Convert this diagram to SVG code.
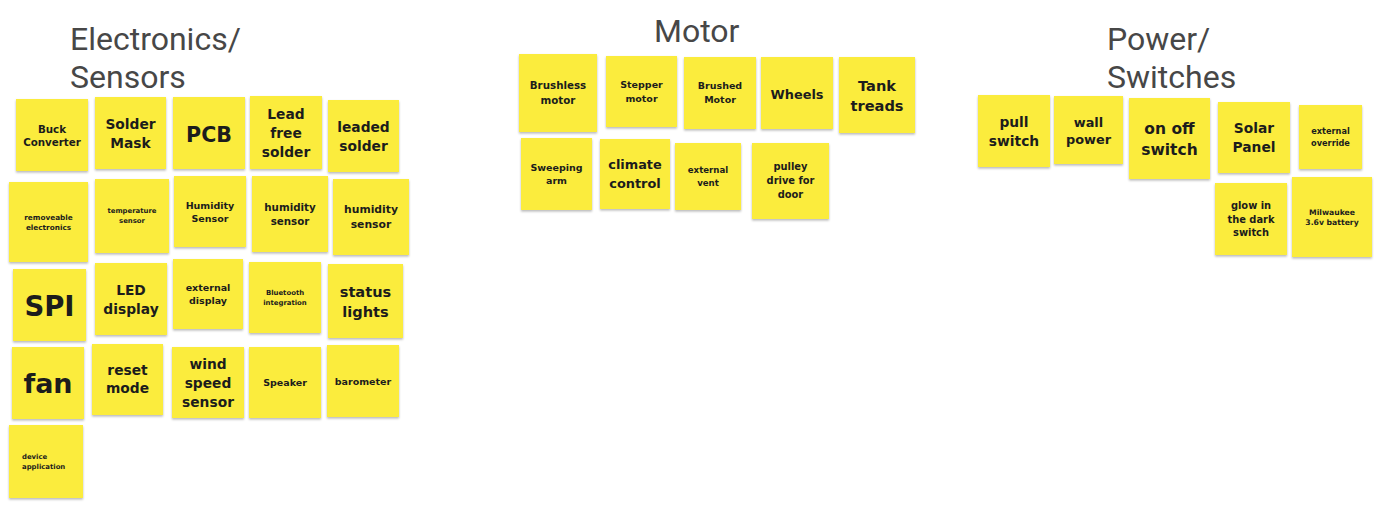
<svg xmlns="http://www.w3.org/2000/svg" width="1381" height="510" viewBox="0 0 1381 510">
<defs>
<filter id="sh" x="-10%" y="-10%" width="120%" height="125%">
<feDropShadow dx="0" dy="1.5" stdDeviation="1" flood-color="#000" flood-opacity="0.28"/>
</filter>
</defs>
<style>
.n{fill:#FBEC3D;filter:url(#sh)}
.t{font-family:"DejaVu Sans","Noto Sans",sans-serif;font-weight:700;fill:#1c1c1c;text-anchor:middle}
.l{text-anchor:start}
.h{font-family:Roboto,"Liberation Sans",sans-serif;font-size:32px;fill:#474747}
</style>
<rect width="1381" height="510" fill="#fff"/>
<g id="titles">
<text class="h" x="70" y="50">Electronics/</text>
<text class="h" x="70" y="88">Sensors</text>
<text class="h" x="654" y="42">Motor</text>
<text class="h" x="1107" y="50">Power/</text>
<text class="h" x="1107" y="88">Switches</text>
</g>
<g id="connectors"/>
<!-- Electronics row 1 -->
<g id="buck"><rect class="n" x="16" y="99" width="72" height="72"/><text class="t" font-size="10.3"><tspan x="52" y="133">Buck</tspan><tspan x="52" y="146">Converter</tspan></text></g>
<g id="soldermask"><rect class="n" x="95" y="97" width="71" height="72"/><text class="t" font-size="13.8"><tspan x="130.5" y="129">Solder</tspan><tspan x="130.5" y="148">Mask</tspan></text></g>
<g id="pcb"><rect class="n" x="173" y="97" width="72" height="72"/><text class="t" font-size="20.6" x="209" y="142">PCB</text></g>
<g id="leadfree"><rect class="n" x="250" y="96" width="72" height="73"/><text class="t" font-size="13.8"><tspan x="286" y="119">Lead</tspan><tspan x="286" y="138">free</tspan><tspan x="286" y="157">solder</tspan></text></g>
<g id="leaded"><rect class="n" x="328" y="100" width="71" height="72"/><text class="t" font-size="13.8"><tspan x="363.5" y="132">leaded</tspan><tspan x="363.5" y="151">solder</tspan></text></g>
<!-- row 2 -->
<g id="removeable"><rect class="n" x="9" y="182" width="79" height="80"/><text class="t" font-size="7.3"><tspan x="48.5" y="220">removeable</tspan><tspan x="48.5" y="230">electronics</tspan></text></g>
<g id="temperature"><rect class="n" x="95" y="179" width="74" height="74"/><text class="t" font-size="6.9"><tspan x="132" y="213">temperature</tspan><tspan x="132" y="223">sensor</tspan></text></g>
<g id="humidity1"><rect class="n" x="174" y="176" width="72" height="71"/><text class="t" font-size="9.5"><tspan x="210" y="209">Humidity</tspan><tspan x="210" y="222">Sensor</tspan></text></g>
<g id="humidity2"><rect class="n" x="252" y="176" width="76" height="76"/><text class="t" font-size="10.3"><tspan x="290" y="211">humidity</tspan><tspan x="290" y="225">sensor</tspan></text></g>
<g id="humidity3"><rect class="n" x="333" y="179" width="76" height="76"/><text class="t" font-size="10.8"><tspan x="371" y="213">humidity</tspan><tspan x="371" y="228">sensor</tspan></text></g>
<!-- row 3 -->
<g id="spi"><rect class="n" x="13" y="269" width="73" height="72"/><text class="t" font-size="27.5" x="49.5" y="316">SPI</text></g>
<g id="led"><rect class="n" x="95" y="263" width="72" height="72"/><text class="t" font-size="13.8"><tspan x="131" y="295">LED</tspan><tspan x="131" y="314">display</tspan></text></g>
<g id="extdisplay"><rect class="n" x="173" y="259" width="70" height="70"/><text class="t" font-size="9.5"><tspan x="208" y="291">external</tspan><tspan x="208" y="304">display</tspan></text></g>
<g id="bluetooth"><rect class="n" x="249" y="262" width="72" height="71"/><text class="t" font-size="6.9"><tspan x="285" y="295">Bluetooth</tspan><tspan x="285" y="305">integration</tspan></text></g>
<g id="status"><rect class="n" x="328" y="264" width="75" height="74"/><text class="t" font-size="14.6"><tspan x="365.5" y="297">status</tspan><tspan x="365.5" y="317">lights</tspan></text></g>
<!-- row 4 -->
<g id="fan"><rect class="n" x="12" y="347" width="72" height="72"/><text class="t" font-size="27" x="48" y="393">fan</text></g>
<g id="reset"><rect class="n" x="92" y="344" width="71" height="71"/><text class="t" font-size="13.8"><tspan x="127.5" y="375">reset</tspan><tspan x="127.5" y="393">mode</tspan></text></g>
<g id="wind"><rect class="n" x="172" y="347" width="72" height="71"/><text class="t" font-size="13.8"><tspan x="208" y="369">wind</tspan><tspan x="208" y="388">speed</tspan><tspan x="208" y="407">sensor</tspan></text></g>
<g id="speaker"><rect class="n" x="249" y="347" width="72" height="71"/><text class="t" font-size="9.5" x="285" y="386">Speaker</text></g>
<g id="barometer"><rect class="n" x="327" y="345" width="72" height="72"/><text class="t" font-size="9.5" x="363" y="385">barometer</text></g>
<!-- row 5 -->
<g id="deviceapp"><rect class="n" x="9" y="425" width="74" height="73"/><text class="t l" font-size="6.9"><tspan x="22" y="459">device</tspan><tspan x="22" y="469">application</tspan></text></g>
<!-- Motor -->
<g id="brushless"><rect class="n" x="519" y="54" width="78" height="78"/><text class="t" font-size="10.3"><tspan x="558" y="89">Brushless</tspan><tspan x="558" y="104">motor</tspan></text></g>
<g id="stepper"><rect class="n" x="606" y="56" width="71" height="71"/><text class="t" font-size="9.5"><tspan x="641.5" y="88">Stepper</tspan><tspan x="641.5" y="102">motor</tspan></text></g>
<g id="brushed"><rect class="n" x="684" y="57" width="72" height="72"/><text class="t" font-size="9.5"><tspan x="720" y="89">Brushed</tspan><tspan x="720" y="103">Motor</tspan></text></g>
<g id="wheels"><rect class="n" x="761" y="57" width="72" height="72"/><text class="t" font-size="12.9" x="797" y="99">Wheels</text></g>
<g id="tank"><rect class="n" x="839" y="57" width="76" height="76"/><text class="t" font-size="14.6"><tspan x="877" y="91">Tank</tspan><tspan x="877" y="111">treads</tspan></text></g>
<g id="sweeping"><rect class="n" x="521" y="138" width="71" height="72"/><text class="t" font-size="9.5"><tspan x="556.5" y="171">Sweeping</tspan><tspan x="556.5" y="184">arm</tspan></text></g>
<g id="climate"><rect class="n" x="600" y="139" width="70" height="70"/><text class="t" font-size="12.9"><tspan x="635" y="169">climate</tspan><tspan x="635" y="188">control</tspan></text></g>
<g id="extvent"><rect class="n" x="675" y="143" width="66" height="67"/><text class="t" font-size="8.6"><tspan x="708" y="173">external</tspan><tspan x="708" y="186">vent</tspan></text></g>
<g id="pulley"><rect class="n" x="752" y="143" width="77" height="76"/><text class="t" font-size="9.9"><tspan x="790.5" y="170">pulley</tspan><tspan x="790.5" y="184">drive for</tspan><tspan x="790.5" y="198">door</tspan></text></g>
<!-- Power -->
<g id="pull"><rect class="n" x="978" y="95" width="72" height="72"/><text class="t" font-size="13.8"><tspan x="1014" y="127">pull</tspan><tspan x="1014" y="146">switch</tspan></text></g>
<g id="wall"><rect class="n" x="1054" y="96" width="69" height="68"/><text class="t" font-size="12.9"><tspan x="1088.5" y="127">wall</tspan><tspan x="1088.5" y="144">power</tspan></text></g>
<g id="onoff"><rect class="n" x="1129" y="98" width="81" height="81"/><text class="t" font-size="15.5"><tspan x="1169.5" y="134">on off</tspan><tspan x="1169.5" y="155">switch</tspan></text></g>
<g id="solar"><rect class="n" x="1218" y="102" width="72" height="71"/><text class="t" font-size="13.8"><tspan x="1254" y="133">Solar</tspan><tspan x="1254" y="152">Panel</tspan></text></g>
<g id="extoverride"><rect class="n" x="1299" y="105" width="63" height="64"/><text class="t" font-size="8.2"><tspan x="1330.5" y="134">external</tspan><tspan x="1330.5" y="146">override</tspan></text></g>
<g id="glow"><rect class="n" x="1215" y="183" width="72" height="72"/><text class="t" font-size="9.9"><tspan x="1251" y="209">glow in</tspan><tspan x="1251" y="223">the dark</tspan><tspan x="1251" y="236">switch</tspan></text></g>
<g id="milwaukee"><rect class="n" x="1292" y="177" width="80" height="80"/><text class="t" font-size="7.7"><tspan x="1332" y="215">Milwaukee</tspan><tspan x="1332" y="225">3.6v battery</tspan></text></g>
</svg>
